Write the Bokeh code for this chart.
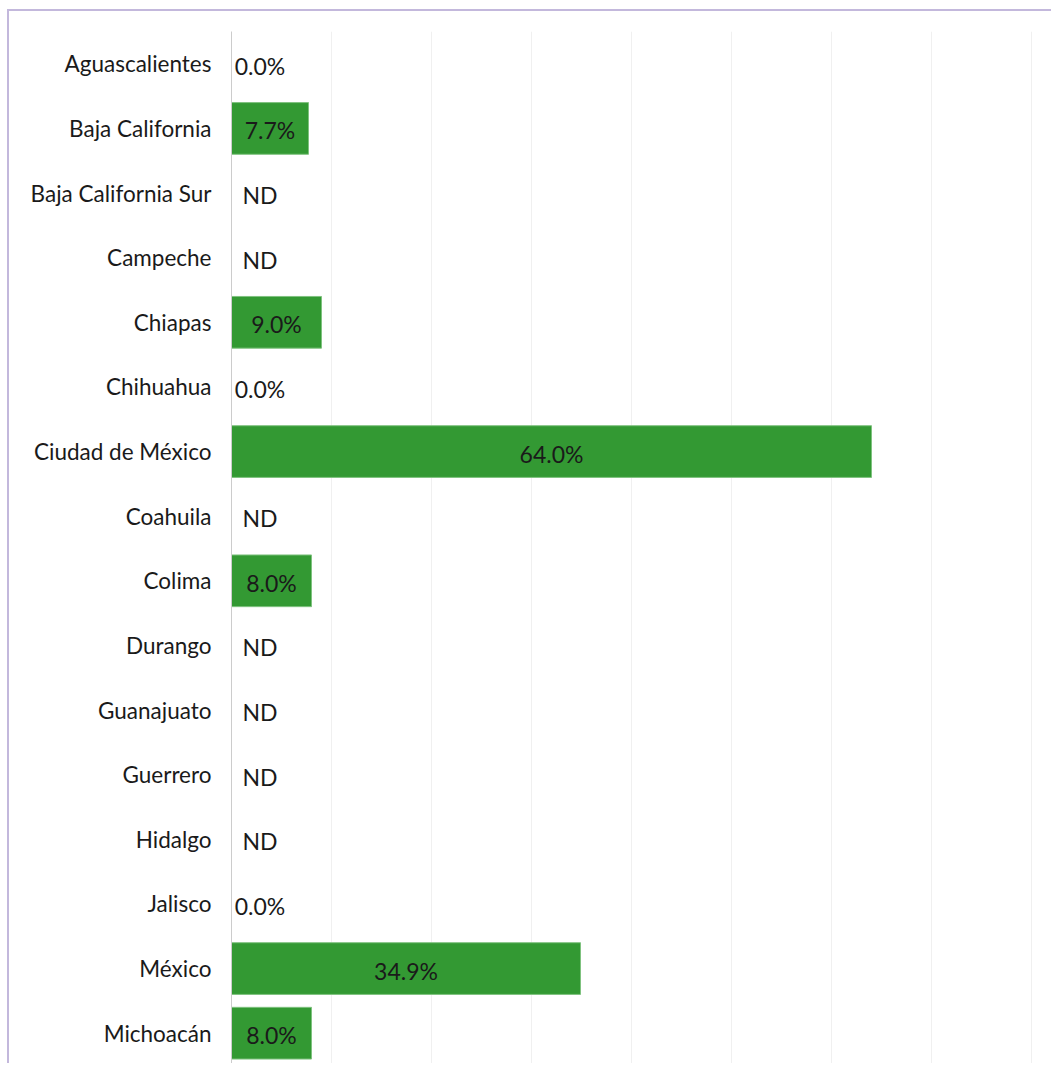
from bokeh.plotting import figure
from bokeh.models import ColumnDataSource, FactorRange, FixedTicker, Range1d
from bokeh.core.properties import value
from bokeh.embed import file_html
from bokeh.resources import INLINE

estados = ["Aguascalientes", "Baja California", "Baja California Sur", "Campeche",
           "Chiapas", "Chihuahua", "Ciudad de México", "Coahuila", "Colima",
           "Durango", "Guanajuato", "Guerrero", "Hidalgo", "Jalisco", "México",
           "Michoacán"]
valores = [0.0, 7.7, None, None, 9.0, 0.0, 64.0, None, 8.0, None, None, None,
           None, 0.0, 34.9, 8.0]
x_ticks = [0, 10, 20, 30, 40, 50, 60, 70, 80]

FONT = "Lato"
GREEN = "#339933"

barras = [v if v is not None else 0.0 for v in valores]
etiquetas = ["ND" if v is None else f"{v:.1f}%" for v in valores]
pos_etq = [(v / 2 if (v is not None and v > 5.7) else 2.85) for v in valores]

src = ColumnDataSource(dict(estado=estados, valor=barras, etq=etiquetas, pos=pos_etq))

p = figure(width=1044, height=1054, output_backend="svg", toolbar_location=None,
           y_range=FactorRange(*reversed(estados), range_padding=0),
           x_range=Range1d(0, 80.1))
p.min_border_left = 222
p.min_border_right = 21
p.min_border_top = 20
p.min_border_bottom = 0
p.outline_line_color = None
p.background_fill_color = "white"
p.border_fill_color = "white"

p.hbar(y="estado", right="valor", left=0, height=0.8, source=src,
       fill_color=GREEN, line_color="#7fc27f", line_width=1)
p.text(x="pos", y="estado", text="etq", source=src, text_align="center",
       text_baseline="middle", text_font=value(FONT), text_font_size="23px",
       text_color="#1a1a1a", y_offset=2)

p.xaxis.visible = False
p.xaxis.ticker = FixedTicker(ticks=x_ticks)
p.xgrid.ticker = FixedTicker(ticks=x_ticks)
p.xgrid.grid_line_color = "#f0f0f0"
p.ygrid.grid_line_color = None

ya = p.yaxis[0]
ya.axis_line_color = "#cccccc"
ya.major_tick_line_color = None
ya.minor_tick_line_color = None
ya.major_label_standoff = 14
ya.major_label_text_font = FONT
ya.major_label_text_font_size = "22.5px"
ya.major_label_text_color = "#1a1a1a"

p.styles = {"border-top": "2px solid #c3b8dc", "border-left": "2px solid #c3b8dc",
            "margin-left": "7px", "margin-top": "9px"}

open("out.html", "w").write(file_html(p, INLINE))
